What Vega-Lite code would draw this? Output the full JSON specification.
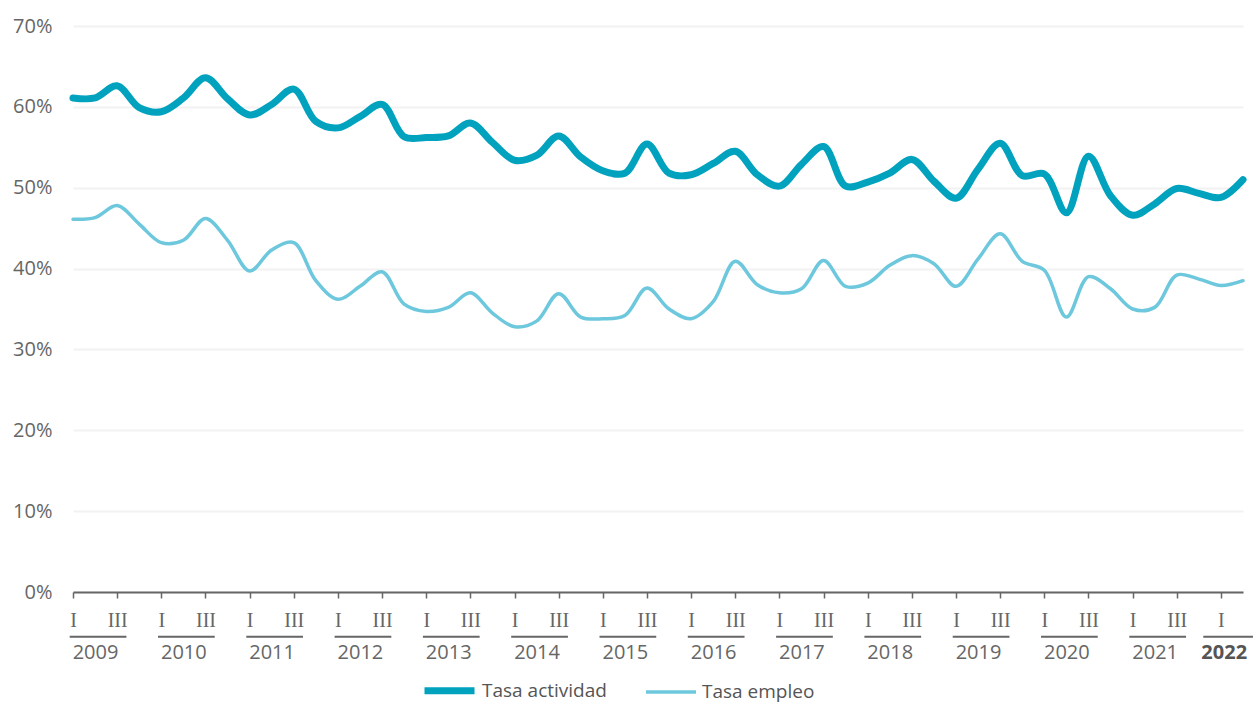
{
  "$schema": "https://vega.github.io/schema/vega-lite/v6.json",
  "width": 1170,
  "height": 566,
  "autosize": {"type": "none"},
  "padding": {"left": 73, "top": 26, "right": 10, "bottom": 112},
  "background": "white",
  "config": {
    "view": {"stroke": null},
    "font": "Open Sans",
    "text": {"font": "Open Sans"}
  },
  "datasets": {
    "rates": [
      {"year": 2009, "q": 1, "Tasa actividad": 61.1, "Tasa empleo": 46.1},
      {"year": 2009, "q": 2, "Tasa actividad": 61.1, "Tasa empleo": 46.3},
      {"year": 2009, "q": 3, "Tasa actividad": 62.6, "Tasa empleo": 47.8},
      {"year": 2009, "q": 4, "Tasa actividad": 59.9, "Tasa empleo": 45.5},
      {"year": 2010, "q": 1, "Tasa actividad": 59.4, "Tasa empleo": 43.2},
      {"year": 2010, "q": 2, "Tasa actividad": 61.1, "Tasa empleo": 43.5},
      {"year": 2010, "q": 3, "Tasa actividad": 63.6, "Tasa empleo": 46.2},
      {"year": 2010, "q": 4, "Tasa actividad": 61.0, "Tasa empleo": 43.5},
      {"year": 2011, "q": 1, "Tasa actividad": 59.0, "Tasa empleo": 39.7},
      {"year": 2011, "q": 2, "Tasa actividad": 60.3, "Tasa empleo": 42.3},
      {"year": 2011, "q": 3, "Tasa actividad": 62.2, "Tasa empleo": 43.2},
      {"year": 2011, "q": 4, "Tasa actividad": 58.2, "Tasa empleo": 38.5},
      {"year": 2012, "q": 1, "Tasa actividad": 57.4, "Tasa empleo": 36.2},
      {"year": 2012, "q": 2, "Tasa actividad": 58.8, "Tasa empleo": 37.8},
      {"year": 2012, "q": 3, "Tasa actividad": 60.3, "Tasa empleo": 39.6},
      {"year": 2012, "q": 4, "Tasa actividad": 56.3, "Tasa empleo": 35.6},
      {"year": 2013, "q": 1, "Tasa actividad": 56.2, "Tasa empleo": 34.7},
      {"year": 2013, "q": 2, "Tasa actividad": 56.4, "Tasa empleo": 35.2},
      {"year": 2013, "q": 3, "Tasa actividad": 58.0, "Tasa empleo": 37.0},
      {"year": 2013, "q": 4, "Tasa actividad": 55.6, "Tasa empleo": 34.5},
      {"year": 2014, "q": 1, "Tasa actividad": 53.4, "Tasa empleo": 32.8},
      {"year": 2014, "q": 2, "Tasa actividad": 54.0, "Tasa empleo": 33.5},
      {"year": 2014, "q": 3, "Tasa actividad": 56.4, "Tasa empleo": 36.9},
      {"year": 2014, "q": 4, "Tasa actividad": 53.8, "Tasa empleo": 34.0},
      {"year": 2015, "q": 1, "Tasa actividad": 52.1, "Tasa empleo": 33.8},
      {"year": 2015, "q": 2, "Tasa actividad": 51.8, "Tasa empleo": 34.2},
      {"year": 2015, "q": 3, "Tasa actividad": 55.4, "Tasa empleo": 37.6},
      {"year": 2015, "q": 4, "Tasa actividad": 51.8, "Tasa empleo": 35.0},
      {"year": 2016, "q": 1, "Tasa actividad": 51.6, "Tasa empleo": 33.8},
      {"year": 2016, "q": 2, "Tasa actividad": 53.0, "Tasa empleo": 35.9},
      {"year": 2016, "q": 3, "Tasa actividad": 54.5, "Tasa empleo": 40.9},
      {"year": 2016, "q": 4, "Tasa actividad": 51.6, "Tasa empleo": 38.0},
      {"year": 2017, "q": 1, "Tasa actividad": 50.2, "Tasa empleo": 37.0},
      {"year": 2017, "q": 2, "Tasa actividad": 52.9, "Tasa empleo": 37.5},
      {"year": 2017, "q": 3, "Tasa actividad": 55.1, "Tasa empleo": 41.0},
      {"year": 2017, "q": 4, "Tasa actividad": 50.2, "Tasa empleo": 37.8},
      {"year": 2018, "q": 1, "Tasa actividad": 50.7, "Tasa empleo": 38.2},
      {"year": 2018, "q": 2, "Tasa actividad": 51.8, "Tasa empleo": 40.4},
      {"year": 2018, "q": 3, "Tasa actividad": 53.5, "Tasa empleo": 41.6},
      {"year": 2018, "q": 4, "Tasa actividad": 50.8, "Tasa empleo": 40.6},
      {"year": 2019, "q": 1, "Tasa actividad": 48.7, "Tasa empleo": 37.8},
      {"year": 2019, "q": 2, "Tasa actividad": 52.3, "Tasa empleo": 41.2},
      {"year": 2019, "q": 3, "Tasa actividad": 55.5, "Tasa empleo": 44.3},
      {"year": 2019, "q": 4, "Tasa actividad": 51.5, "Tasa empleo": 40.9},
      {"year": 2020, "q": 1, "Tasa actividad": 51.7, "Tasa empleo": 39.8},
      {"year": 2020, "q": 2, "Tasa actividad": 46.9, "Tasa empleo": 34.0},
      {"year": 2020, "q": 3, "Tasa actividad": 53.9, "Tasa empleo": 39.0},
      {"year": 2020, "q": 4, "Tasa actividad": 49.0, "Tasa empleo": 37.5},
      {"year": 2021, "q": 1, "Tasa actividad": 46.6, "Tasa empleo": 35.0},
      {"year": 2021, "q": 2, "Tasa actividad": 48.0, "Tasa empleo": 35.2},
      {"year": 2021, "q": 3, "Tasa actividad": 49.9, "Tasa empleo": 39.2},
      {"year": 2021, "q": 4, "Tasa actividad": 49.3, "Tasa empleo": 38.7},
      {"year": 2022, "q": 1, "Tasa actividad": 48.8, "Tasa empleo": 37.9},
      {"year": 2022, "q": 2, "Tasa actividad": 51.0, "Tasa empleo": 38.5}
    ],
    "years": [
      {"year": 2009}, {"year": 2010}, {"year": 2011}, {"year": 2012}, {"year": 2013},
      {"year": 2014}, {"year": 2015}, {"year": 2016}, {"year": 2017}, {"year": 2018},
      {"year": 2019}, {"year": 2020}, {"year": 2021}, {"year": 2022}
    ]
  },
  "layer": [
    {
      "data": {"name": "rates"},
      "transform": [
        {"calculate": "(datum.year - 2009) * 4 + datum.q - 1", "as": "t"},
        {"fold": ["Tasa actividad", "Tasa empleo"], "as": ["serie", "valor"]}
      ],
      "mark": {"type": "line", "interpolate": "catmull-rom", "strokeCap": "round", "strokeJoin": "round"},
      "encoding": {
        "x": {
          "field": "t",
          "type": "quantitative",
          "scale": {"domain": [0, 53], "nice": false, "zero": false},
          "axis": {
            "title": null,
            "values": [0, 2, 4, 6, 8, 10, 12, 14, 16, 18, 20, 22, 24, 26, 28, 30, 32, 34, 36, 38, 40, 42, 44, 46, 48, 50, 52],
            "labelExpr": "datum.value % 4 == 0 ? 'I' : 'III'",
            "labelFont": "Liberation Serif",
            "labelFontSize": 20,
            "labelColor": "#666666",
            "labelPadding": 12,
            "labelBaseline": "top",
            "labelFlush": false,
            "labelOverlap": false,
            "grid": false,
            "domainColor": "#666666",
            "domainWidth": 2,
            "tickColor": "#666666",
            "tickWidth": 1.5,
            "tickSize": 6
          }
        },
        "y": {
          "field": "valor",
          "type": "quantitative",
          "scale": {"domain": [0, 70], "nice": false},
          "axis": {
            "title": null,
            "values": [0, 10, 20, 30, 40, 50, 60, 70],
            "labelExpr": "datum.value + '%'",
            "labelFont": "Open Sans",
            "labelFontSize": 20,
            "labelColor": "#666666",
            "labelPadding": 21,
            "domain": false,
            "ticks": false,
            "gridColor": "#f2f2f2",
            "gridWidth": 2
          }
        },
        "color": {
          "field": "serie",
          "type": "nominal",
          "scale": {"domain": ["Tasa actividad", "Tasa empleo"], "range": ["#00a2be", "#6dc8dd"]},
          "legend": {
            "title": null,
            "orient": "none",
            "direction": "horizontal",
            "legendX": 348,
            "legendY": 636,
            "padding": 0,
            "symbolType": "stroke",
            "symbolSize": 2500,
            "labelFont": "Open Sans",
            "labelFontSize": 19,
            "labelColor": "#555555",
            "labelOffset": 4,
            "columnPadding": 32
          }
        },
        "strokeWidth": {
          "field": "serie",
          "type": "nominal",
          "scale": {"domain": ["Tasa actividad", "Tasa empleo"], "range": [7, 3.5]},
          "legend": {
            "title": null,
            "orient": "none",
            "direction": "horizontal",
            "legendX": 348,
            "legendY": 636,
            "padding": 0,
            "symbolType": "stroke",
            "symbolSize": 2500,
            "labelFont": "Open Sans",
            "labelFontSize": 19,
            "labelColor": "#555555",
            "labelOffset": 4,
            "columnPadding": 32
          }
        }
      }
    },
    {
      "data": {"name": "years"},
      "transform": [
        {"calculate": "(datum.year - 2009) * 4", "as": "t0"},
        {"calculate": "datum.year == 2022 ? datum.t0 - 0.8 : datum.t0 - 0.15", "as": "lx1"},
        {"calculate": "datum.t0 + 2.42", "as": "lx2"}
      ],
      "mark": {"type": "rule", "color": "#666666", "strokeWidth": 2},
      "encoding": {
        "x": {"field": "lx1", "type": "quantitative"},
        "x2": {"field": "lx2"},
        "y": {"datum": -5.53, "type": "quantitative"}
      }
    },
    {
      "data": {"name": "years"},
      "transform": [
        {"filter": "datum.year < 2022"},
        {"calculate": "(datum.year - 2009) * 4 + 1.02", "as": "tx"}
      ],
      "mark": {"type": "text", "fontSize": 20, "color": "#666666", "baseline": "middle", "align": "center"},
      "encoding": {
        "x": {"field": "tx", "type": "quantitative"},
        "y": {"datum": -7.54, "type": "quantitative"},
        "text": {"field": "year", "type": "nominal"}
      }
    },
    {
      "data": {"name": "years"},
      "transform": [
        {"filter": "datum.year == 2022"},
        {"calculate": "(datum.year - 2009) * 4 + 0.15", "as": "tx"}
      ],
      "mark": {"type": "text", "fontSize": 20, "fontWeight": "bold", "color": "#555555", "baseline": "middle", "align": "center"},
      "encoding": {
        "x": {"field": "tx", "type": "quantitative"},
        "y": {"datum": -7.54, "type": "quantitative"},
        "text": {"field": "year", "type": "nominal"}
      }
    }
  ]
}
